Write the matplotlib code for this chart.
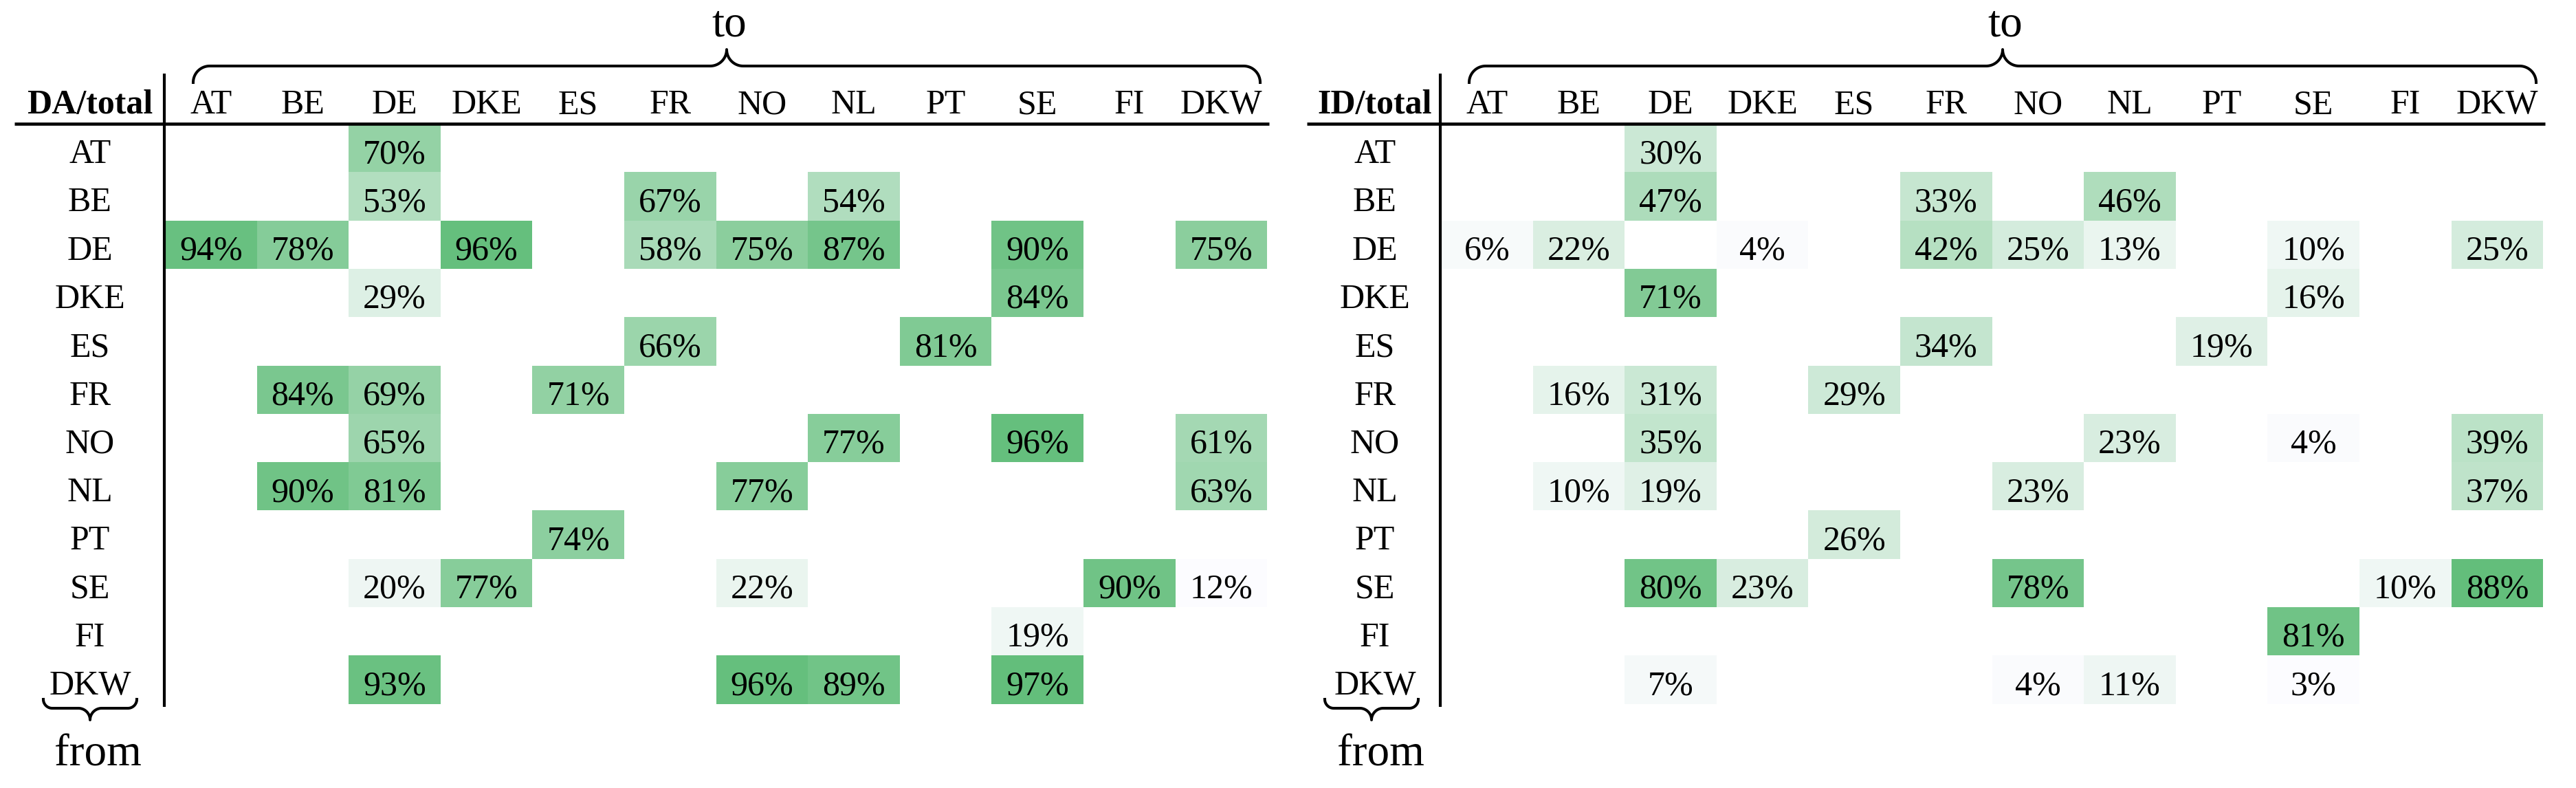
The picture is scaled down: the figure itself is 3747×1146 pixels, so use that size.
import numpy as np
import matplotlib
matplotlib.use('Agg')
import matplotlib.pyplot as plt
from matplotlib.colors import LinearSegmentedColormap

plt.rcParams['font.family'] = ['Liberation Serif', 'DejaVu Serif']

countries = ['AT', 'BE', 'DE', 'DKE', 'ES', 'FR', 'NO', 'NL', 'PT', 'SE', 'FI', 'DKW']
n = np.nan

# rows = from, columns = to (same order as countries), values in %
da_total = [
    [n, n, 70, n, n, n, n, n, n, n, n, n],
    [n, n, 53, n, n, 67, n, 54, n, n, n, n],
    [94, 78, n, 96, n, 58, 75, 87, n, 90, n, 75],
    [n, n, 29, n, n, n, n, n, n, 84, n, n],
    [n, n, n, n, n, 66, n, n, 81, n, n, n],
    [n, 84, 69, n, 71, n, n, n, n, n, n, n],
    [n, n, 65, n, n, n, n, 77, n, 96, n, 61],
    [n, 90, 81, n, n, n, 77, n, n, n, n, 63],
    [n, n, n, n, 74, n, n, n, n, n, n, n],
    [n, n, 20, 77, n, n, 22, n, n, n, 90, 12],
    [n, n, n, n, n, n, n, n, n, 19, n, n],
    [n, n, 93, n, n, n, 96, 89, n, 97, n, n],
]
id_total = [
    [n, n, 30, n, n, n, n, n, n, n, n, n],
    [n, n, 47, n, n, 33, n, 46, n, n, n, n],
    [6, 22, n, 4, n, 42, 25, 13, n, 10, n, 25],
    [n, n, 71, n, n, n, n, n, n, 16, n, n],
    [n, n, n, n, n, 34, n, n, 19, n, n, n],
    [n, 16, 31, n, 29, n, n, n, n, n, n, n],
    [n, n, 35, n, n, n, n, 23, n, 4, n, 39],
    [n, 10, 19, n, n, n, 23, n, n, n, n, 37],
    [n, n, n, n, 26, n, n, n, n, n, n, n],
    [n, n, 80, 23, n, n, 78, n, n, n, 10, 88],
    [n, n, n, n, n, n, n, n, n, 81, n, n],
    [n, n, 7, n, n, n, 4, 11, n, 3, n, n],
]

W, H, DPI = 3748, 1146, 100
TOP = 180        # header rule, px from top
ROW_H = 70.3
COL_W = 133.6
FS = 36
BIG = 47
cmap = LinearSegmentedColormap.from_list('excel_green', ['#FCFCFF', '#63BE7B'])

fig = plt.figure(figsize=(W / DPI, H / DPI), dpi=DPI, facecolor='white')


def brace(xl, xr, xt, y_end, y_line, r_end, r_tip):
    # curly brace in pixel coords (y down); ends at y_end, tip on the other side
    s = np.sign(y_end - y_line)
    t = np.linspace(0, np.pi / 2, 30)
    cx, cy = xl + r_end, y_line + s * r_end
    x1, y1 = cx - r_end * np.cos(t), cy - s * r_end * np.sin(t)
    cx, cy = xt - r_tip, y_line - s * r_tip
    x2, y2 = cx + r_tip * np.sin(t), cy + s * r_tip * np.cos(t)
    cx, cy = xt + r_tip, y_line - s * r_tip
    x3, y3 = cx - r_tip * np.cos(t), cy + s * r_tip * np.sin(t)
    cx, cy = xr - r_end, y_line + s * r_end
    x4, y4 = cx + r_end * np.sin(t), cy - s * r_end * np.cos(t)
    return np.concatenate([x1, x2, x3, x4]), np.concatenate([y1, y2, y3, y4])


def draw_table(x0, values, title, label_cx, rule_left, from_cx, brace_cx):
    vals = np.array(values, dtype=float)
    nr, nc = vals.shape
    ax = fig.add_axes([x0 / W, 1 - (TOP + nr * ROW_H) / H,
                       nc * COL_W / W, nr * ROW_H / H])
    edges_x = np.arange(nc + 1) - 0.5
    edges_y = np.arange(nr + 1) - 0.5
    ax.pcolormesh(edges_x, edges_y, np.ma.masked_invalid(vals), cmap=cmap,
                  vmin=np.nanmin(vals), vmax=np.nanmax(vals))
    ax.set_xlim(-0.5, nc - 0.5)
    ax.set_ylim(nr - 0.5, -0.5)
    ax.axis('off')

    X = lambda px: (np.asarray(px) - x0) / COL_W - 0.5
    Y = lambda py: (np.asarray(py) - TOP) / ROW_H - 0.5
    base = 57 / ROW_H - 0.5  # text baseline inside a row

    for i in range(nr):
        for j in range(nc):
            if not np.isnan(vals[i, j]):
                ax.text(j, i + base, f'{vals[i, j]:.0f}%', ha='center',
                        va='baseline', fontsize=FS)
    for j, c in enumerate(countries):
        ax.text(j, Y(165), c, ha='center', va='baseline', fontsize=FS, clip_on=False)
    for i, r in enumerate(countries):
        ax.text(X(label_cx), i + base, r, ha='center', va='baseline', fontsize=FS,
                clip_on=False)
    ax.text(X(label_cx), Y(165), title, ha='center', va='baseline', fontsize=FS,
            fontweight='bold', clip_on=False)

    # rules
    right = x0 + nc * COL_W
    ax.plot(X([rule_left, right + 3]), Y([TOP, TOP]), color='black', lw=3.3,
            solid_capstyle='butt', clip_on=False)
    ax.plot(X([x0 - 1, x0 - 1]), Y([107, 1028]), color='black', lw=3.0,
            solid_capstyle='butt', clip_on=False)

    # "to" brace over the columns
    bx, by = brace(x0 + 41, x0 + 1593, x0 + 817, 120, 96, 24, 24)
    ax.plot(X(bx), Y(by), color='black', lw=2.9, clip_on=False)
    ax.text(X(x0 + 821), Y(52), 'to', ha='center', va='baseline', fontsize=BIG,
            clip_on=False)

    # "from" brace under the row labels
    bx, by = brace(brace_cx - 68, brace_cx + 68, brace_cx, 1017, 1030, 13, 17)
    ax.plot(X(bx), Y(by), color='black', lw=2.9, clip_on=False)
    ax.text(X(from_cx), Y(1113), 'from', ha='center', va='baseline', fontsize=BIG,
            clip_on=False)


draw_table(240, da_total, 'DA/total', 131, 21, 142, 131)
draw_table(2096, id_total, 'ID/total', 2000, 1901, 2008, 1995)

fig.savefig('out.png', dpi=DPI, facecolor='white')
